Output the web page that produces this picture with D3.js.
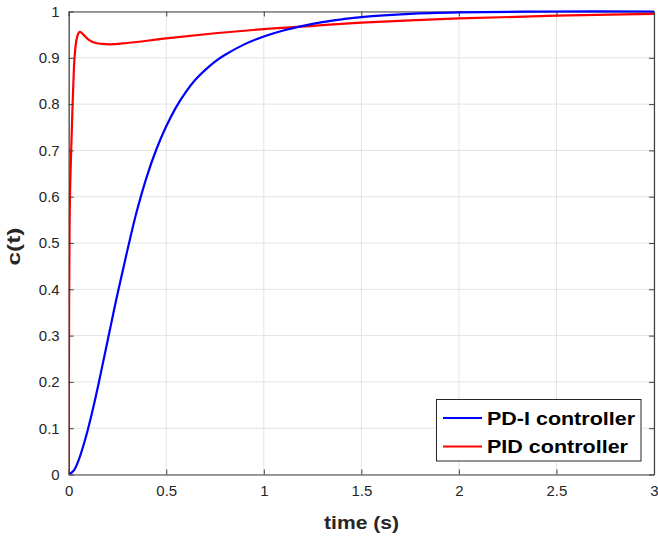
<!DOCTYPE html>
<html><head><meta charset="utf-8">
<script src="https://cdn.jsdelivr.net/npm/d3@7"></script>
<style>body{margin:0;background:#fff}svg{display:block}text{font-family:"Liberation Sans",Arial,Helvetica,sans-serif}</style>
</head><body>
<svg id="chart" width="658" height="538"></svg>
<script>
const timeBlue = [0,0.025,0.05,0.075,0.1,0.125,0.15,0.175,0.2,0.25,0.3,0.35,0.4,0.45,0.5,0.55,0.6,0.65,0.7,0.75,0.8,0.9,1.0,1.1,1.2,1.3,1.4,1.5,1.75,2.0,2.5,3.0];
const pdiValues = [0,0.008,0.03,0.062,0.1,0.143,0.19,0.24,0.29,0.39,0.483,0.57,0.643,0.703,0.752,0.793,0.826,0.853,0.874,0.892,0.906,0.929,0.946,0.959,0.969,0.977,0.983,0.988,0.995,0.998,1.0,1.0];
const timeRed = [0,0.002,0.005,0.01,0.015,0.02,0.027,0.035,0.045,0.058,0.075,0.1,0.13,0.17,0.21,0.3,0.5,0.75,1.0,1.25,1.5,1.75,2.0,2.5,3.0];
const pidValues = [0,0.35,0.55,0.66,0.73,0.8,0.88,0.925,0.948,0.956,0.95,0.94,0.933,0.93,0.929,0.932,0.942,0.953,0.962,0.969,0.976,0.981,0.985,0.991,0.995];
const xTicks = [0,0.5,1,1.5,2,2.5,3];
const xTickLabels = ["0","0.5","1","1.5","2","2.5","3"];
const yTicks = [0,0.1,0.2,0.3,0.4,0.5,0.6,0.7,0.8,0.9,1];
const yTickLabels = ["0","0.1","0.2","0.3","0.4","0.5","0.6","0.7","0.8","0.9","1"];
const seriesNames = ["PD-I controller","PID controller"];
const seriesColors = ["#0000ff","#ff0000"];

const L=68.7, R=654, T=11.5, B=474.5;
const svg = d3.select("#chart");
const x = d3.scaleLinear().domain([0,3]).range([L,R]);
const y = d3.scaleLinear().domain([0,1]).range([B,T]);
const axisColor = "#404040";

// grid
const g = svg.append("g");
g.selectAll(".gx").data(xTicks).enter().append("line")
  .attr("x1",d=>x(d)).attr("x2",d=>x(d)).attr("y1",T).attr("y2",B)
  .attr("stroke","#e3e3e3").attr("stroke-width",1);
g.selectAll(".gy").data(yTicks).enter().append("line")
  .attr("y1",d=>y(d)).attr("y2",d=>y(d)).attr("x1",L).attr("x2",R)
  .attr("stroke","#e3e3e3").attr("stroke-width",1);

// lines
svg.append("clipPath").attr("id","clip").append("rect")
  .attr("x",L).attr("y",T-2).attr("width",R-L).attr("height",B-T+2);
const lineGen = d3.line().x(d=>x(d[0])).y(d=>y(d[1])).curve(d3.curveMonotoneX);
const blueGen = d3.line().x(d=>x(d[0])).y(d=>y(d[1])).curve(d3.curveCatmullRom.alpha(0.5));
const blueData = timeBlue.map((t,i)=>[t,pdiValues[i]]);
const redData = timeRed.map((t,i)=>[t,pidValues[i]]);

// axes
const xAxisB = d3.axisBottom(x).tickValues(xTicks).tickFormat((d,i)=>xTickLabels[i]).tickSizeInner(-5).tickSizeOuter(0).tickPadding(11);
const xAxisT = d3.axisTop(x).tickValues(xTicks).tickFormat("").tickSizeInner(-5).tickSizeOuter(0);
const yAxisL = d3.axisLeft(y).tickValues(yTicks).tickFormat((d,i)=>yTickLabels[i]).tickSizeInner(-5).tickSizeOuter(0).tickPadding(9);
const yAxisR = d3.axisRight(y).tickValues(yTicks).tickFormat("").tickSizeInner(-5).tickSizeOuter(0);

function style(sel){
  sel.select(".domain").attr("stroke",axisColor).attr("stroke-width",1.2);
  sel.selectAll(".tick line").attr("stroke",axisColor);
  sel.selectAll(".tick text").attr("fill","#262626").attr("font-size",15).style("font-family",'"Liberation Sans",Arial,sans-serif');
}
svg.append("g").attr("transform",`translate(0,${T})`).call(xAxisT).call(style);
svg.append("g").attr("transform",`translate(${R},0)`).call(yAxisR).call(style);

const plot = svg.append("g").attr("clip-path","url(#clip)");
plot.append("path").datum(redData).attr("d",lineGen).attr("fill","none").attr("stroke",seriesColors[1]).attr("stroke-width",2.2);
plot.append("path").datum(blueData).attr("d",blueGen).attr("fill","none").attr("stroke",seriesColors[0]).attr("stroke-width",2.2);

svg.append("g").attr("transform",`translate(0,${B})`).call(xAxisB).call(style);
svg.append("g").attr("transform",`translate(${L},0)`).call(yAxisL).call(style);

// axis labels
svg.append("text").attr("x",361.5).attr("y",529).attr("text-anchor","middle")
  .attr("font-size",19).attr("font-weight","bold").attr("fill","#262626")
  .attr("textLength",75).attr("lengthAdjust","spacingAndGlyphs").text("time (s)");
svg.append("text").attr("transform","translate(20,246.5) rotate(-90)").attr("text-anchor","middle")
  .attr("font-size",19).attr("font-weight","bold").attr("fill","#262626")
  .attr("textLength",38).attr("lengthAdjust","spacingAndGlyphs").text("c(t)");

// legend
const lg = svg.append("g");
lg.append("rect").attr("x",436.5).attr("y",399.5).attr("width",204.5).attr("height",61.5)
  .attr("fill","#fff").attr("stroke","#262626").attr("stroke-width",1);
const legendWidths = [148,141];
seriesNames.forEach((name,i)=>{
  const yy = 418 + i*28.5;
  lg.append("line").attr("x1",443).attr("x2",482).attr("y1",yy).attr("y2",yy)
    .attr("stroke",seriesColors[i]).attr("stroke-width",2.2);
  lg.append("text").attr("x",487).attr("y",yy+6.5).attr("font-size",18).attr("font-weight","bold")
    .attr("fill","#000").attr("textLength",legendWidths[i]).attr("lengthAdjust","spacingAndGlyphs").text(name);
});
</script>
</body></html>
